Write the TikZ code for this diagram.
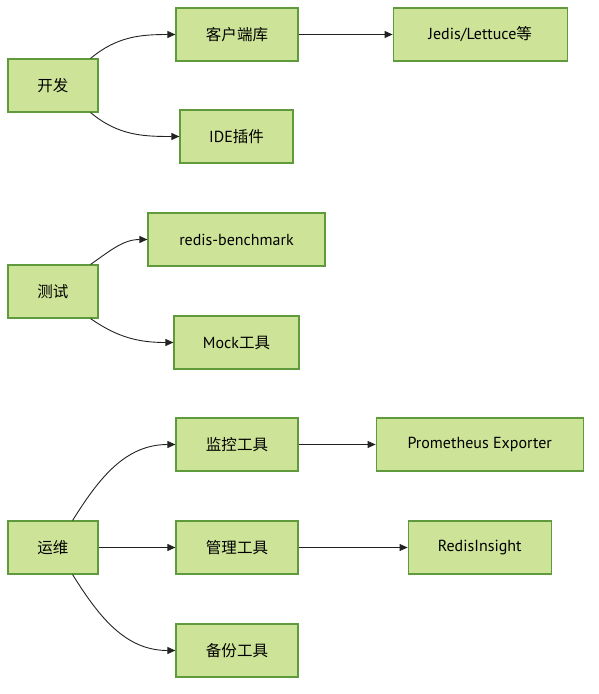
\documentclass[tikz,border=0pt]{standalone}
\usepackage{fontspec}
\setmainfont{PT Sans}
\newfontfamily\cjk{Noto Sans CJK SC}[Scale=0.97]
\usetikzlibrary{arrows.meta}
\usetikzlibrary{positioning}

\definecolor{boxfill}{HTML}{CDE498}
\definecolor{boxline}{HTML}{5F9A3C}
\definecolor{edgeline}{HTML}{222222}

\begin{document}
\begin{tikzpicture}[-{Triangle[length=8pt,width=7pt]},auto,node distance=2cm,
  edge line/.style={draw=edgeline,line width=0.9pt},
  main node/.style={rectangle,draw=boxline,line width=1.2pt,fill=boxfill,minimum height=53pt,inner xsep=4pt,font=\fontsize{16}{19}\selectfont}]

            \useasboundingbox (0,0) rectangle (599pt,-694pt);

            \node[main node,minimum width=90pt]  (dev)    at (53pt,-85.5pt)   {\cjk 开发};
            \node[main node,minimum width=122pt] (client) at (237pt,-34.5pt)  {\cjk 客户端库};
            \node[main node,minimum width=174pt] (jedis)  [right=94pt of client] {Jedis/Lettuce{\cjk 等}};
            \node[main node,minimum width=113pt] (ide)    at (236.5pt,-136.5pt) {IDE{\cjk 插件}};

            \node[main node,minimum width=90pt]  (test)   at (53pt,-291.5pt)  {\cjk 测试};
            \node[main node,minimum width=177pt] (bench)  at (236.5pt,-239.5pt) {redis-benchmark};
            \node[main node,minimum width=125pt] (mock)   at (236.5pt,-342.5pt) {Mock{\cjk 工具}};

            \node[main node,minimum width=90pt]  (ops)    at (53pt,-547.5pt)  {\cjk 运维};
            \node[main node,minimum width=122pt] (mon)    at (237pt,-444.5pt) {\cjk 监控工具};
            \node[main node,minimum width=207pt] (prom)   [right=77pt of mon] {Prometheus Exporter};
            \node[main node,minimum width=122pt] (mgmt)   at (237pt,-547.5pt) {\cjk 管理工具};
            \node[main node,minimum width=143pt] (insight) [right=109pt of mgmt] {RedisInsight};
            \node[main node,minimum width=122pt] (backup) at (237pt,-650.5pt) {\cjk 备份工具};

            \draw[edge line] ([xshift=-8pt]dev.north east)  to[out=40,in=180]  (client.west);
            \draw[edge line] ([xshift=-8pt]dev.south east)  to[out=-40,in=180] (ide.west);
            \draw[edge line] (client) -- (jedis);
            \draw[edge line] ([xshift=-8pt]test.north east) to[out=35,in=180]  (bench.west);
            \draw[edge line] ([xshift=-8pt]test.south east) to[out=-35,in=180] (mock.west);
            \draw[edge line] ([xshift=-26pt]ops.north east) to[out=58,in=180]  (mon.west);
            \draw[edge line] (ops) -- (mgmt);
            \draw[edge line] ([xshift=-26pt]ops.south east) to[out=-58,in=180] (backup.west);
            \draw[edge line] (mon) -- (prom);
            \draw[edge line] (mgmt) -- (insight);
            \end{tikzpicture}
\end{document}
